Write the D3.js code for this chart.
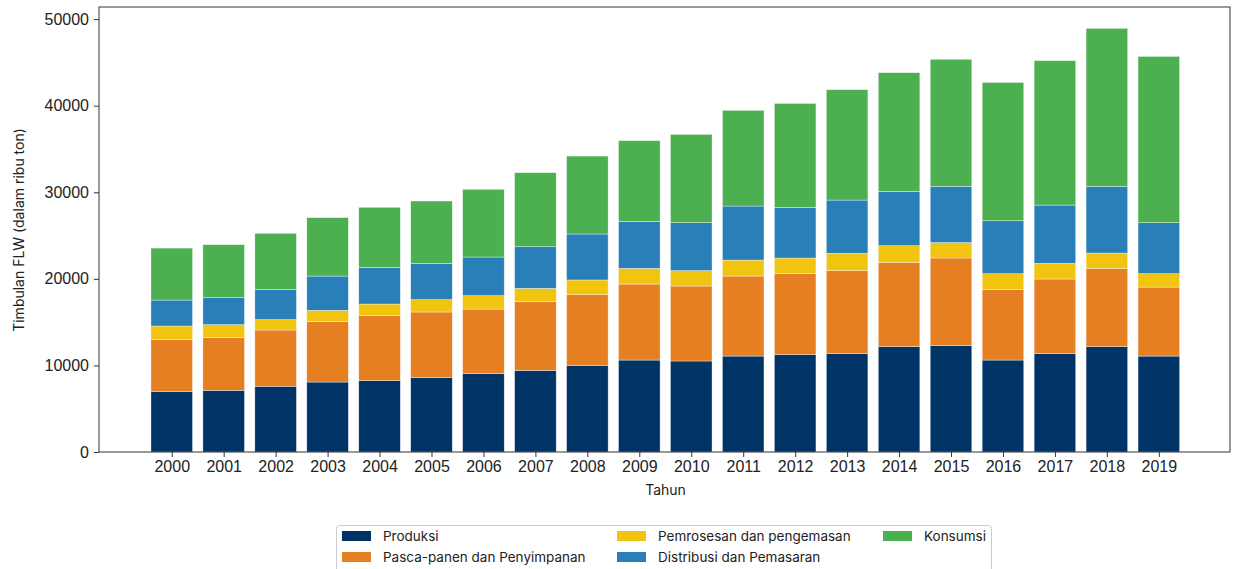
<!DOCTYPE html>
<html>
<head>
<meta charset="utf-8">
<script src="https://cdn.jsdelivr.net/npm/d3@7"></script>
<style>
  body { margin: 0; background: #fff; }
  svg { font-family: Inter, "Open Sans", sans-serif; }
</style>
</head>
<body>
<div id="chart"></div>
<script>
const years = [2000, 2001, 2002, 2003, 2004, 2005, 2006, 2007, 2008, 2009,
               2010, 2011, 2012, 2013, 2014, 2015, 2016, 2017, 2018, 2019];
const produksi   = [7000, 7120, 7590, 8080, 8250, 8590, 9050, 9430, 10010, 10620,
                    10510, 11080, 11250, 11360, 12170, 12290, 10620, 11360, 12170, 11080];
const pascapanen = [6000, 6120, 6500, 6980, 7540, 7580, 7460, 7930, 8170, 8780,
                    8660, 9240, 9350, 9590, 9730, 10120, 8160, 8620, 9040, 7970];
const pemrosesan = [1550, 1470, 1200, 1300, 1300, 1430, 1550, 1540, 1690, 1810,
                    1780, 1850, 1800, 2000, 1930, 1780, 1810, 1810, 1770, 1550];
const distribusi = [3000, 3120, 3500, 3960, 4240, 4190, 4460, 4810, 5310, 5430,
                    5540, 6240, 5850, 6150, 6270, 6500, 6120, 6730, 7700, 5890];
const konsumsi   = [6000, 6120, 6470, 6750, 6930, 7200, 7820, 8550, 9000, 9320,
                    10200, 11050, 12010, 12750, 13710, 14670, 15970, 16680, 18250, 19200];
const seriesNames = ["Produksi", "Pasca-panen dan Penyimpanan", "Pemrosesan dan pengemasan",
                     "Distribusi dan Pemasaran", "Konsumsi"];
const colors = ["#003366", "#e67e22", "#f1c40f", "#2980b9", "#4caf50"];
const yTicks = [0, 10000, 20000, 30000, 40000, 50000];

const W = 1235, H = 569;
const plot = { left: 99, right: 1230, top: 7, bottom: 452 };

const table = years.map((yr, i) => ({
  year: yr,
  [seriesNames[0]]: produksi[i],
  [seriesNames[1]]: pascapanen[i],
  [seriesNames[2]]: pemrosesan[i],
  [seriesNames[3]]: distribusi[i],
  [seriesNames[4]]: konsumsi[i]
}));
const stacked = d3.stack().keys(seriesNames)(table);

const svg = d3.select("#chart").append("svg")
  .attr("width", W).attr("height", H);

const x = d3.scaleLinear().domain([1998.6, 2020.37]).range([plot.left, plot.right]);
const y = d3.scaleLinear().domain([0, 51400]).range([plot.bottom, plot.top]);
const barW = 0.8 * (x(1) - x(0));

const color = d3.scaleOrdinal().domain(seriesNames).range(colors);

svg.append("g").selectAll("g")
  .data(stacked)
  .enter().append("g")
  .attr("fill", d => color(d.key))
  .selectAll("rect")
  .data(d => d)
  .enter().append("rect")
  .attr("x", d => x(d.data.year) - barW / 2)
  .attr("y", d => y(d[1]))
  .attr("width", barW)
  .attr("height", d => y(d[0]) - y(d[1]))
  .attr("stroke", "#ffffff")
  .attr("stroke-opacity", 0.6)
  .attr("stroke-width", 0.6);

// frame
svg.append("rect")
  .attr("x", plot.left).attr("y", plot.top)
  .attr("width", plot.right - plot.left).attr("height", plot.bottom - plot.top)
  .attr("fill", "none").attr("stroke", "#333").attr("stroke-width", 1);

const yAxis = svg.append("g")
  .attr("transform", `translate(${plot.left},0)`)
  .call(d3.axisLeft(y).tickValues(yTicks).tickSize(5).tickPadding(5).tickFormat(d3.format("d")));
const xAxis = svg.append("g")
  .attr("transform", `translate(0,${plot.bottom})`)
  .call(d3.axisBottom(x).tickValues(years).tickSize(5).tickPadding(4).tickFormat(d3.format("d")));

[yAxis, xAxis].forEach(a => {
  a.select(".domain").remove();
  a.selectAll(".tick line").attr("stroke", "#333");
  a.selectAll("text").attr("fill", "#222").style("font-size", "16px");
});

svg.append("text")
  .attr("x", (plot.left + plot.right) / 2 + 1)
  .attr("y", 495)
  .attr("text-anchor", "middle")
  .attr("fill", "#222")
  .style("font-size", "14px")
  .text("Tahun");

svg.append("text")
  .attr("transform", "rotate(-90)")
  .attr("x", -230)
  .attr("y", 24)
  .attr("text-anchor", "middle")
  .attr("fill", "#222")
  .style("font-size", "14px")
  .text("Timbulan FLW (dalam ribu ton)");

// legend
const legend = svg.append("g");
legend.append("rect")
  .attr("x", 336.5).attr("y", 525.5)
  .attr("width", 655).attr("height", 50)
  .attr("rx", 3)
  .attr("fill", "#fff").attr("stroke", "#ccc");

const legPos = [
  [342, 536], [342, 557], [617, 536], [617, 557], [883, 536]
];
seriesNames.forEach((name, i) => {
  const [lx, ly] = legPos[i];
  legend.append("rect")
    .attr("x", lx).attr("y", ly - 5)
    .attr("width", 29).attr("height", 10)
    .attr("fill", colors[i]);
  legend.append("text")
    .attr("x", lx + 41).attr("y", ly)
    .attr("dy", "0.35em")
    .attr("fill", "#222")
    .style("font-size", "13.5px")
    .text(name);
});
</script>
</body>
</html>
